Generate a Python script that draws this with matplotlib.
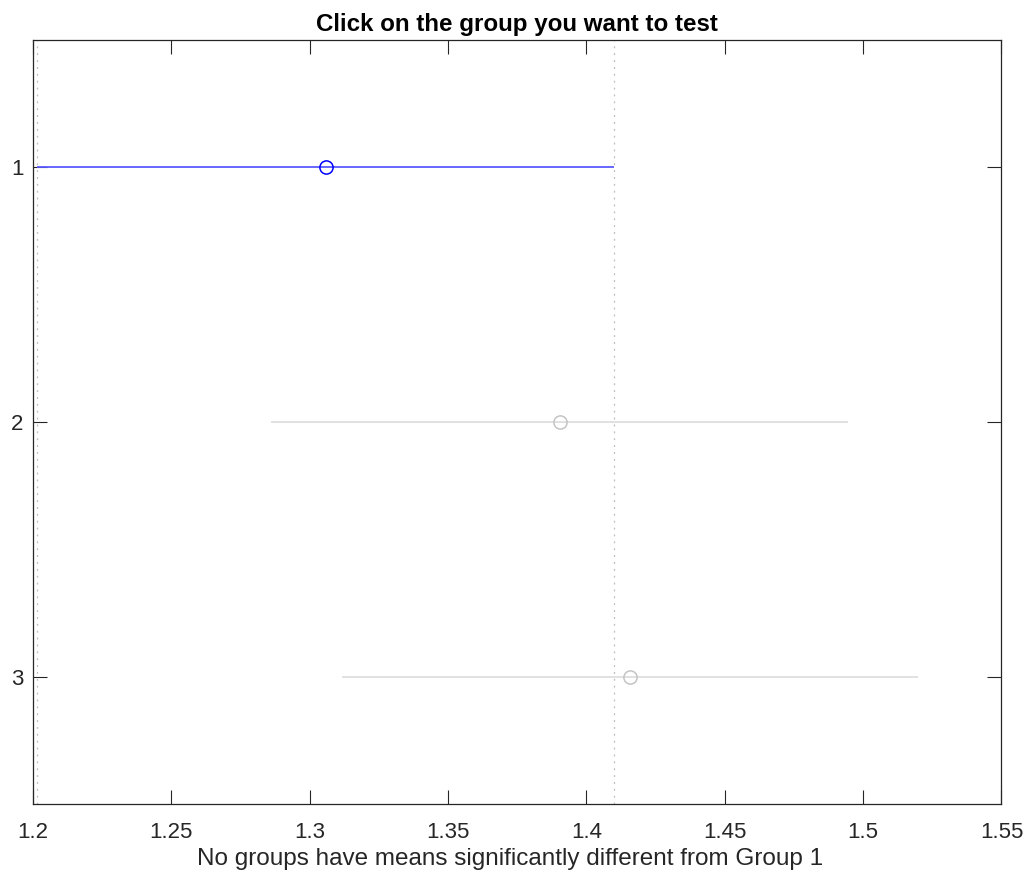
import matplotlib
matplotlib.use("Agg")
import matplotlib.pyplot as plt
from matplotlib.ticker import FixedLocator, FixedFormatter

plt.rcParams['font.family'] = ['Liberation Sans', 'DejaVu Sans']

# Group estimates and comparison interval half-widths
groups = [1, 2, 3]
means = [1.3058, 1.3904, 1.4157]
half_widths = [0.1042, 0.1043, 0.1041]
selected = 0  # index of the group being tested

xticks = [1.2, 1.25, 1.3, 1.35, 1.4, 1.45, 1.5, 1.55]
xtick_labels = ['1.2', '1.25', '1.3', '1.35', '1.4', '1.45', '1.5', '1.55']

title_text = 'Click on the group you want to test'
xlabel_text = 'No groups have means significantly different from Group 1'

fig = plt.figure(figsize=(10.28, 8.73), dpi=100)
ax = fig.add_axes([0.0321, 0.079, 0.9421, 0.8757])

# Reference lines at the selected group's interval bounds
lo = means[selected] - half_widths[selected]
hi = means[selected] + half_widths[selected]
for xv in (lo, hi):
    ax.axvline(xv, color='#bcbcbc', linestyle=(0, (1.5, 4)), linewidth=0.9, zorder=1)

for i, (g, m, h) in enumerate(zip(groups, means, half_widths)):
    if i == selected:
        lc, mc = '#5a5aff', '#0000ff'
    else:
        lc, mc = '#dedede', '#c4c4c4'
    ax.plot([m - h, m + h], [g, g], color=lc, linewidth=1.3, zorder=2,
            solid_capstyle='butt')
    ax.plot([m], [g], marker='o', markersize=9.5, markerfacecolor='none',
            markeredgecolor=mc, markeredgewidth=1.1, linestyle='none', zorder=3)

ax.set_xlim(1.2, 1.55)
ax.set_ylim(3.5, 0.5)
ax.xaxis.set_major_locator(FixedLocator(xticks))
ax.xaxis.set_major_formatter(FixedFormatter(xtick_labels))
ax.set_yticks(groups)
ax.set_yticklabels([str(g) for g in groups])

ax.tick_params(axis='both', direction='in', length=10, width=0.8,
               color='#262626', labelcolor='#262626', labelsize=16,
               top=True, right=True)
ax.tick_params(axis='x', pad=13)
ax.tick_params(axis='y', pad=7)
for s in ax.spines.values():
    s.set_color('#262626')
    s.set_linewidth(0.9)

ax.set_title(title_text, fontsize=17.4, fontweight='bold', color='black', pad=6)
ax.set_xlabel(xlabel_text, fontsize=17.5, color='#262626')
ax.xaxis.set_label_coords(0.4925, -0.058)

fig.savefig('out.png', dpi=100, facecolor='white')
